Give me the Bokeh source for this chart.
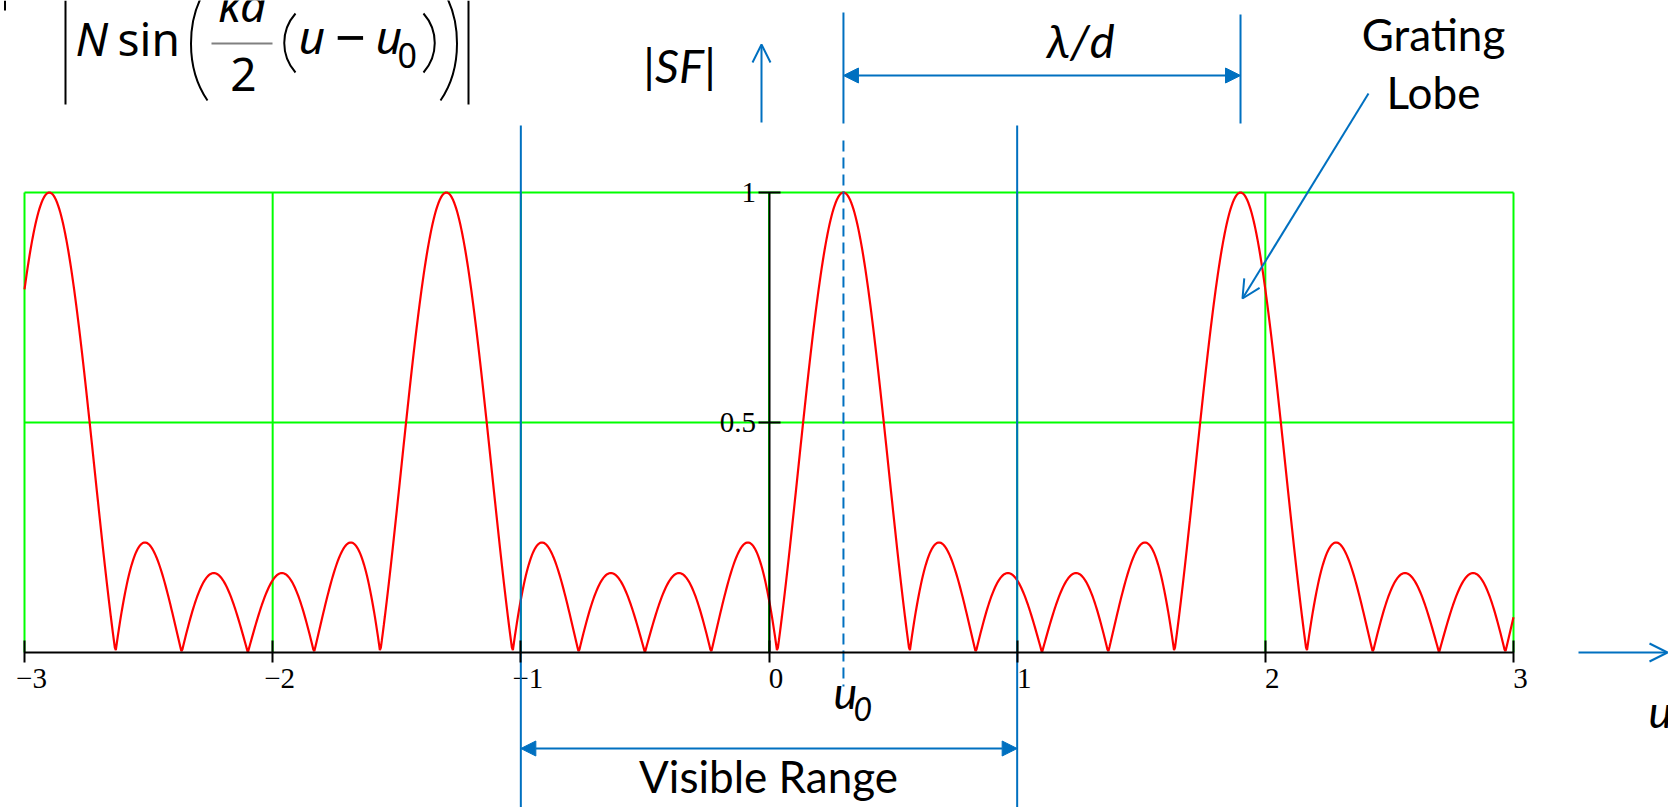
import numpy as np
from bokeh.plotting import figure
from bokeh.models import Range1d, LinearAxis, FixedTicker, Arrow, NormalHead, OpenHead
from bokeh.core.properties import value
from bokeh.embed import file_html
from bokeh.resources import INLINE

# ---- array-factor parameters -------------------------------------------
N_ELEMENTS = 6            # number of elements
U0 = 0.3                  # steering direction u0
LAMBDA_OVER_D = 1.6       # grating-lobe period lambda/d in u
VISIBLE_RANGE = [-1.0, 1.0]

# ---- axes ---------------------------------------------------------------
X_TICKS = [-3, -2, -1, 0, 1, 2, 3]
X_TICK_LABELS = ["−3", "−2", "−1", "0", "1", "2", "3"]
Y_TICKS = [0.5, 1.0]
Y_TICK_LABELS = ["0.5", "1"]
GRID_Y = [0.5, 1.0]

# |SF| = |sin(N kd/2 (u-u0)) / (N sin(kd/2 (u-u0)))|
u = np.linspace(X_TICKS[0], X_TICKS[-1], 1501)
psi = np.pi / LAMBDA_OVER_D * (u - U0)
den = N_ELEMENTS * np.sin(psi)
sf = np.ones_like(u)
ok = np.abs(den) > 1e-9
sf[ok] = np.abs(np.sin(N_ELEMENTS * psi[ok]) / den[ok])

# ---- canvas geometry (pixels) -------------------------------------------
W, H = 1668, 807
PX_LEFT, PX_RIGHT = 24.0, 1513.0     # u = -3 and u = 3
PY_TOP, PY_ZERO = 192.0, 652.0       # |SF| = 1 and |SF| = 0

SX = (PX_RIGHT - PX_LEFT) / (X_TICKS[-1] - X_TICKS[0])
SY = (PY_ZERO - PY_TOP) / 1.0
X_START = X_TICKS[0] - PX_LEFT / SX
X_END = X_START + W / SX
Y_END = 1.0 + PY_TOP / SY
Y_START = Y_END - H / SY


def dx(px):
    return X_START + px / SX


def dy(py):
    return Y_END - py / SY


BLUE = "#0070c0"
GREEN = "#00ff00"
RED = "#ff0000"
SANS = value("Lato")
MATH = value("Noto Sans")
SERIF = "Liberation Serif"
BASE_SHIFT = 0.38   # text anchor sits this fraction of the font size above the baseline

p = figure(width=W, height=H,
           x_range=Range1d(X_START, X_END), y_range=Range1d(Y_START, Y_END),
           x_axis_type=None, y_axis_type=None,
           output_backend="svg", toolbar_location=None,
           min_border=0, outline_line_color=None)
p.background_fill_color = "white"
p.border_fill_color = "white"

# green plot grid
n = len(X_TICKS)
p.segment(x0=X_TICKS, y0=[0] * n, x1=X_TICKS, y1=[1] * n,
          line_color=GREEN, line_width=2)
p.segment(x0=[X_TICKS[0]] * len(GRID_Y), y0=GRID_Y,
          x1=[X_TICKS[-1]] * len(GRID_Y), y1=GRID_Y,
          line_color=GREEN, line_width=2)

# space factor
p.line(u, sf, line_color=RED, line_width=2.2)

# axes crossing at the origin
xax = LinearAxis(fixed_location=0, ticker=FixedTicker(ticks=X_TICKS),
                 bounds=(X_TICKS[0], X_TICKS[-1]),
                 axis_line_width=2, axis_line_color="black",
                 major_tick_line_width=2, major_tick_line_color="black",
                 major_tick_in=12, major_tick_out=10,
                 minor_tick_line_color=None,
                 major_label_text_color=None)
p.add_layout(xax, "below")
# x tick labels sit just right of their ticks
p.text(x=X_TICKS, y=[dy(PY_ZERO + 37 - BASE_SHIFT * 29)] * n, text=X_TICK_LABELS,
       x_offset=7, text_font=value(SERIF), text_font_size="29px",
       text_color="black", text_align="center", text_baseline="alphabetic")

yax = LinearAxis(fixed_location=0, ticker=FixedTicker(ticks=Y_TICKS),
                 bounds=(0, 1),
                 major_label_overrides={float(t): s for t, s in zip(Y_TICKS, Y_TICK_LABELS)},
                 axis_line_width=2, axis_line_color="black",
                 major_tick_line_width=2, major_tick_line_color="black",
                 major_tick_in=11, major_tick_out=11,
                 minor_tick_line_color=None,
                 major_label_text_font=SERIF, major_label_text_font_size="29px",
                 major_label_text_color="black", major_label_standoff=2)
p.add_layout(yax, "left")

# ---- blue construction lines --------------------------------------------
U_GRATING = U0 + LAMBDA_OVER_D
p.segment(x0=VISIBLE_RANGE, y0=[dy(125)] * 2, x1=VISIBLE_RANGE, y1=[dy(H)] * 2,
          line_color=BLUE, line_width=2)
p.segment(x0=[U0, U_GRATING], y0=[dy(12), dy(14)], x1=[U0, U_GRATING], y1=[dy(123)] * 2,
          line_color=BLUE, line_width=2)
p.segment(x0=[U0], y0=[dy(140)], x1=[U0], y1=[dy(686)],
          line_color=BLUE, line_width=2, line_dash="11 6")


def head(kind, size):
    if kind == "normal":
        return NormalHead(size=size, fill_color=BLUE, line_color=BLUE, line_width=1)
    return OpenHead(size=size, line_color=BLUE, line_width=2)


# lambda/d span
p.add_layout(Arrow(start=head("normal", 15), end=head("normal", 15),
                   x_start=U0, y_start=dy(75), x_end=U_GRATING, y_end=dy(75),
                   line_color=BLUE, line_width=2))
# visible range span
p.add_layout(Arrow(start=head("normal", 15), end=head("normal", 15),
                   x_start=VISIBLE_RANGE[0], y_start=dy(748),
                   x_end=VISIBLE_RANGE[1], y_end=dy(748),
                   line_color=BLUE, line_width=2))
# |SF| direction arrow
p.add_layout(Arrow(end=head("open", 18),
                   x_start=dx(761), y_start=dy(122), x_end=dx(761), y_end=dy(44),
                   line_color=BLUE, line_width=2))
# u direction arrow
p.add_layout(Arrow(end=head("open", 18),
                   x_start=dx(1578), y_start=0, x_end=dx(1667), y_end=0,
                   line_color=BLUE, line_width=2))
# grating lobe pointer
p.add_layout(Arrow(end=head("open", 18),
                   x_start=dx(1368), y_start=dy(93), x_end=dx(1242), y_end=dy(298),
                   line_color=BLUE, line_width=2))


# ---- labels ---------------------------------------------------------------
def label(px, py, s, size, align="left", style="normal", font=SANS):
    # py is the wanted baseline in pixels
    p.text(x=[dx(px)], y=[dy(py - BASE_SHIFT * size)], text=[s], text_font=font,
           text_font_size=f"{size}px", text_font_style=style, text_color="black",
           text_align=align, text_baseline="alphabetic")


label(679, 82, "|SF|", 47, "center", "italic")
label(1080, 57, "λ/d", 47, "center", "italic")
label(1433, 50, "Grating", 44, "center")
label(1433, 108, "Lobe", 44, "center")
label(768, 792, "Visible Range", 44, "center")
label(833, 709, "u", 45, "left", "italic")
label(853, 721, "0", 32, "left", "italic")
label(1648, 728, "u", 45, "left", "italic")

# ---- formula (denominator of the space factor) ---------------------------
label(75, 55, "N", 46, "left", "italic", MATH)
label(117, 55, "sin", 46, "left", "normal", MATH)
label(242, 21, "kd", 46, "center", "italic", MATH)
label(243, 91, "2", 46, "center", "normal", MATH)
label(298, 53, "u", 46, "left", "italic", MATH)
label(350, 58, "−", 54, "center", "normal", MATH)
label(375, 53, "u", 46, "left", "italic", MATH)
label(397, 68, "0", 34, "left", "normal", MATH)

p.segment(x0=[dx(211)], y0=[dy(43)], x1=[dx(272)], y1=[dy(43)],
          line_color="#808080", line_width=2)
p.segment(x0=[dx(65), dx(468), dx(4.5)], y0=[dy(0), dy(0), dy(0)],
          x1=[dx(65), dx(468), dx(4.5)], y1=[dy(104), dy(104), dy(10)],
          line_color="black", line_width=2)
# parentheses
p.bezier(x0=[dx(207), dx(440), dx(295), dx(423)],
         y0=[dy(-14), dy(-14), dy(13), dy(13)],
         x1=[dx(207), dx(440), dx(295), dx(423)],
         y1=[dy(100), dy(100), dy(72), dy(72)],
         cx0=[dx(185), dx(462), dx(280), dx(438)],
         cy0=[dy(18), dy(18), dy(30), dy(30)],
         cx1=[dx(185), dx(462), dx(280), dx(438)],
         cy1=[dy(68), dy(68), dy(55), dy(55)],
         line_color="black", line_width=2)

open("out.html", "w").write(file_html(p, INLINE))
